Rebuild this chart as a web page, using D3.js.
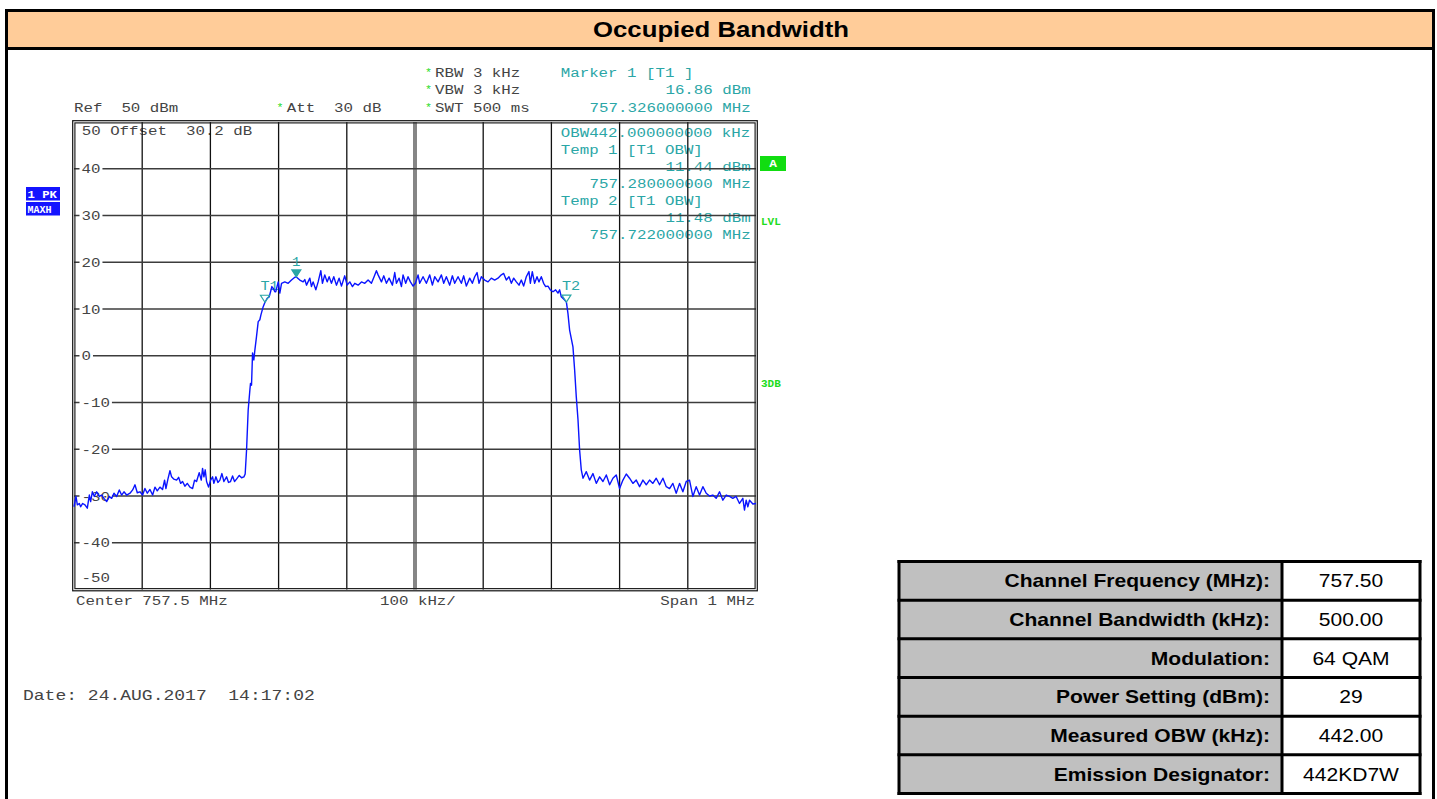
<!DOCTYPE html>
<html>
<head>
<meta charset="utf-8">
<script src="https://cdn.jsdelivr.net/npm/d3@7"></script>
<style>
  html, body { margin: 0; padding: 0; background: #fff; }
  svg { display: block; }
  svg text { white-space: pre; }
</style>
</head>
<body>
<svg id="chart" width="1437" height="799"></svg>
<script>
// ---------------- DATA ----------------
const titleText = "Occupied Bandwidth";
const centerMHz = 757.5;
const spanMHz = 1.0;
const startMHz = 757.0;

// trace: frequency offset from 757.0 MHz (kHz) and level (dBm)
const traceOffsetKHz = [
  0,2.9,4.9,7.8,9.8,12.7,16.1,19.5,22.5,24.4,
  26.9,29.8,33.2,37.1,40.5,44.0,47.9,51.8,55.2,58.6,
  62.5,66.4,69.8,73.3,77.2,82.1,86.0,89.4,92.8,96.7,
  100.6,104.0,107.5,111.4,115.3,118.7,122.1,126.0,129.9,132.8,
  134.8,137.7,140.7,143.1,146.5,150.4,153.4,156.3,159.2,162.6,
  166.1,170.0,173.9,176.8,179.7,183.6,186.6,188.5,190.5,192.4,
  194.4,197.3,200.3,203.2,205.1,208.1,211.0,213.9,216.9,219.8,
  223.7,226.6,229.5,232.5,235.4,238.3,242.3,245.7,249.1,251.0,
  253.0,255.4,257.9,258.8,260.3,261.8,263.7,265.2,267.6,270.1,
  272.5,274.0,277.4,280.0,283.3,286.2,288.2,290.1,292.1,294.5,
  295.9,299.4,301.8,304.3,309.1,314.0,318.9,323.8,326.0,331.1,
  336.0,338.4,340.9,345.8,348.2,350.6,354.6,358.0,361.9,364.3,
  367.7,371.2,374.1,377.5,380.9,384.8,388.7,392.2,397.0,400.5,
  404.4,408.3,411.7,416.6,421.5,426.4,431.2,436.1,440.0,443.4,
  445.9,450.8,454.2,458.1,462.0,466.9,470.3,472.8,476.7,480.1,
  482.5,486.4,489.8,493.3,497.2,500.6,504.5,506.9,511.8,516.7,
  521.6,525.5,528.9,533.8,538.7,542.1,546.0,550.9,554.8,558.2,
  563.1,568.0,571.4,575.3,580.2,584.1,587.5,591.0,593.9,597.3,
  602.2,607.1,611.9,616.8,621.7,626.6,630.0,633.9,637.8,641.3,
  644.7,648.6,652.5,655.9,659.3,663.2,667.1,669.1,672.0,675.4,
  678.9,681.8,685.2,688.6,691.6,695.0,698.4,702.3,706.2,709.6,
  712.1,714.5,719.4,
  722.0,724.3,726.7,731.6,734.1,736.5,739.0,741.4,743.8,746.3,
  751.2,756.0,760.9,765.8,770.7,775.6,780.5,785.4,790.2,795.1,
  800.0,804.9,809.8,814.6,819.5,824.4,829.3,834.2,839.1,843.9,
  848.8,853.7,858.6,863.5,868.4,873.3,878.1,883.0,887.9,892.8,
  897.7,902.5,907.4,912.3,917.2,922.1,927.0,931.9,936.7,941.6,
  946.5,951.4,956.3,961.2,966.0,970.9,975.8,980.7,983.1,985.6,
  988.0,990.5,995.4,1000
];
const traceDBm = [
  -32.3,-30.1,-31.9,-31.6,-32.3,-31.6,-31.9,-32.6,-29.8,-31.2,
  -29.1,-30.1,-29.1,-30.1,-29.8,-30.5,-31.2,-30.1,-30.5,-29.4,
  -30.1,-28.7,-29.8,-29.1,-29.8,-29.4,-28.7,-27.6,-29.3,-29.1,
  -29.8,-28.4,-29.4,-28.6,-29.8,-28.1,-28.9,-28.1,-28.6,-26.6,
  -28.4,-26.4,-24.6,-25.9,-26.4,-26.6,-26.0,-27.3,-26.9,-27.9,
  -27.3,-28.1,-28.4,-26.6,-26.9,-25.0,-26.6,-24.1,-25.9,-24.4,
  -26.9,-28.1,-26.6,-25.9,-27.3,-25.9,-27.1,-26.6,-25.2,-26.9,
  -25.9,-27.1,-26.9,-25.7,-26.9,-26.4,-25.6,-26.1,-25.9,-25.3,
  -20.2,-11.6,-7.3,-5.9,-6.3,0.6,-0.9,1.2,4.1,7.3,
  7.7,8.7,10.5,11.44,12.3,12.6,13.7,14.8,14.4,13.7,
  13.7,15.8,13.4,15.5,15.8,15.5,16.2,16.8,16.86,16.2,
  15.8,16.3,15.1,16.6,14.8,15.8,14.1,15.8,18.2,15.5,
  17.3,15.8,16.9,15.5,16.9,15.1,16.6,14.9,17.1,15.1,
  15.8,14.8,15.5,15.1,15.8,15.5,16.2,15.5,16.9,18.2,
  17.3,15.8,17.1,15.5,16.6,15.1,17.8,15.5,16.6,14.8,
  17.3,15.5,16.9,15.8,14.9,15.5,17.3,15.5,16.9,15.5,
  17.3,15.1,16.9,15.8,17.3,15.5,16.9,15.1,17.1,15.5,
  16.9,15.5,17.1,14.9,16.6,15.5,16.9,17.8,15.5,16.9,
  16.2,15.8,16.6,16.2,16.6,17.3,17.6,16.2,16.9,15.5,
  16.6,15.8,15.1,16.2,14.9,16.9,18.0,15.5,18.0,15.5,
  16.9,15.8,16.9,15.5,14.8,14.9,14.1,13.7,14.1,13.4,
  14.1,12.6,11.9,
  11.48,9.0,5.5,1.9,-3.1,-8.8,-13.7,-20.2,-24.4,-26.2,
  -24.8,-26.6,-25.2,-27.3,-25.9,-26.9,-25.5,-27.6,-26.2,-25.5,
  -28.4,-26.6,-25.3,-26.2,-27.3,-26.6,-28.0,-26.6,-27.6,-26.6,
  -27.3,-26.2,-27.6,-26.2,-28.0,-28.4,-27.3,-29.4,-27.3,-29.1,
  -26.9,-26.6,-30.1,-28.0,-29.8,-28.0,-29.4,-30.0,-29.8,-30.5,
  -29.1,-30.9,-29.8,-30.1,-30.5,-30.1,-31.6,-30.5,-33.0,-30.9,
  -32.3,-30.9,-31.7,-31.6
];

const yTickLevels = [40, 30, 20, 10, 0, -10, -20, -30, -40];
const xGridMHz = [757.1, 757.2, 757.3, 757.4, 757.5, 757.6, 757.7, 757.8, 757.9];
const refLevel = 50, bottomLevel = -50;

const markerNames = ["1", "T1", "T2"];
const markerMHz = [757.326, 757.280, 757.722];
const markerDBm = [16.86, 11.44, 11.48];
const markerFilled = [true, false, false];

const headerLeft = ["Ref  50 dBm", "Att  30 dB"];
const settingsLines = ["RBW 3 kHz", "VBW 3 kHz", "SWT 500 ms"];
const markerInfoLeft = ["Marker 1 [T1 ]"];
const markerInfoRight = ["16.86 dBm", "757.326000000 MHz"];
const obwLines = [
  {t: "OBW442.000000000 kHz", a: "start"},
  {t: "Temp 1 [T1 OBW]", a: "start"},
  {t: "11.44 dBm", a: "end"},
  {t: "757.280000000 MHz", a: "end"},
  {t: "Temp 2 [T1 OBW]", a: "start"},
  {t: "11.48 dBm", a: "end"},
  {t: "757.722000000 MHz", a: "end"}
];
const offsetText = "50 Offset  30.2 dB";
const bottomLabels = ["Center 757.5 MHz", "100 kHz/", "Span 1 MHz"];
const dateText = "Date: 24.AUG.2017  14:17:02";

const tableLabels = ["Channel Frequency (MHz):", "Channel Bandwidth (kHz):", "Modulation:",
                     "Power Setting (dBm):", "Measured OBW (kHz):", "Emission Designator:"];
const tableValues = ["757.50", "500.00", "64 QAM", "29", "442.00", "442KD7W"];

// ---------------- DRAWING ----------------
const SX = 1.17;
const MONO = "'Liberation Mono', 'DejaVu Sans Mono', monospace";
const SANS = "'Liberation Sans', Arial, Helvetica, sans-serif";
const TEAL = "#2aa6a6";
const GREEN = "#1edc1e";
const TXT = "#444";

const svg = d3.select("#chart");

function T(parent, x, y, str, o = {}) {
  return parent.append("text")
    .attr("xml:space", "preserve")
    .attr("transform", `translate(${x},${y}) scale(${o.sx || SX},1)`)
    .attr("text-anchor", o.anchor || "start")
    .attr("font-family", o.family || MONO)
    .attr("font-size", o.size || 13.5)
    .attr("font-weight", o.weight || "normal")
    .attr("fill", o.fill || TXT)
    .text(str);
}

// page frame & title
svg.append("rect").attr("x", 8).attr("y", 12).attr("width", 1424).attr("height", 36).attr("fill", "#FFCC99");
svg.append("line").attr("x1", 5).attr("x2", 1435).attr("y1", 10.5).attr("y2", 10.5).attr("stroke", "#000").attr("stroke-width", 3);
svg.append("line").attr("x1", 5).attr("x2", 1435).attr("y1", 48.5).attr("y2", 48.5).attr("stroke", "#000").attr("stroke-width", 3);
svg.append("line").attr("x1", 6.5).attr("x2", 6.5).attr("y1", 9).attr("y2", 799).attr("stroke", "#000").attr("stroke-width", 3);
svg.append("line").attr("x1", 1433.5).attr("x2", 1433.5).attr("y1", 9).attr("y2", 799).attr("stroke", "#000").attr("stroke-width", 3);
T(svg, 721, 37, titleText, {anchor: "middle", family: SANS, size: 22, weight: "bold", fill: "#000"});

// scales
const x0 = 74, x1 = 756, y0 = 122, y1 = 589.5;
const x = d3.scaleLinear().domain([startMHz, startMHz + spanMHz]).range([x0, x1]);
const y = d3.scaleLinear().domain([bottomLevel, refLevel]).range([y1, y0]);

const plot = svg.append("g");

// header texts
T(svg, 74, 112, headerLeft[0]);
T(svg, 276.5, 111, "*", {fill: GREEN, size: 10});
T(svg, 286.7, 112, headerLeft[1]);
settingsLines.forEach((s, i) => {
  const by = 77 + i * 17.3;
  T(svg, 425, by - 1, "*", {fill: GREEN, size: 10});
  T(svg, 435, by, s);
});
T(svg, 560.7, 77, markerInfoLeft[0], {fill: TEAL});
markerInfoRight.forEach((s, i) => T(svg, 750.7, 94.3 + i * 17.3, s, {fill: TEAL, anchor: "end"}));

// text inside the plot (drawn before grid)
obwLines.forEach((l, i) => {
  const by = 136.7 + i * 17.1;
  T(plot, l.a === "start" ? 560.7 : 750.7, by, l.t, {fill: TEAL, anchor: l.a});
});
T(plot, 81.7, 135, offsetText);

// grid: verticals
xGridMHz.forEach(f => {
  if (Math.abs(f - centerMHz) < 1e-9) {
    [-1, 1].forEach(d => plot.append("line")
      .attr("x1", x(f) + d).attr("x2", x(f) + d).attr("y1", y0).attr("y2", y1)
      .attr("stroke", "#222").attr("stroke-width", 1.1));
  } else {
    plot.append("line").attr("x1", x(f)).attr("x2", x(f)).attr("y1", y0).attr("y2", y1)
      .attr("stroke", "#111").attr("stroke-width", 1.3);
  }
});
// grid: horizontals with tick labels
yTickLevels.forEach(v => {
  const yy = y(v);
  plot.append("line").attr("x1", x0).attr("x2", x1).attr("y1", yy).attr("y2", yy)
    .attr("stroke", "#3c3c3c").attr("stroke-width", 1.6);
  const lab = (v < 0 ? "-" : "") + Math.abs(v);
  const w = lab.length * 8.1 * SX;
  plot.append("rect").attr("x", 79.5).attr("y", yy - 6).attr("width", w + 4).attr("height", 12).attr("fill", "#fff");
  T(plot, 81.5, yy + 4.5, lab, {fill: "#444"});
});
T(plot, 81.5, 582, "-50", {fill: "#444"});

// frame (double lines)
[[-1.3, "#111"], [0.9, "#222"]].forEach(([d, c]) => {
  plot.append("rect").attr("x", x0 + d).attr("y", y0 + d)
    .attr("width", (x1 - x0) - 2 * d).attr("height", (y1 - y0) - 2 * d)
    .attr("fill", "none").attr("stroke", c).attr("stroke-width", 1.2);
});

// bottom labels
T(svg, 76, 605, bottomLabels[0]);
T(svg, 380, 605, bottomLabels[1]);
T(svg, 755, 605, bottomLabels[2], {anchor: "end"});
T(svg, 23, 700, dateText, {size: 15.4});

// marker labels (under trace)
markerNames.forEach((n, i) => {
  const mx = x(markerMHz[i]), my = y(markerDBm[i]);
  if (markerFilled[i]) {
    T(plot, mx, my - 11, n, {fill: TEAL, anchor: "middle", size: 12});
  } else {
    T(plot, mx - 4.5, my - 12, n, {fill: TEAL, size: 13});
  }
});

// trace
const pts = traceOffsetKHz.map((k, i) => [startMHz + k / 1000, traceDBm[i]]);
const line = d3.line().x(d => x(d[0])).y(d => y(d[1]));
plot.append("path").attr("d", line(pts)).attr("fill", "none")
  .attr("stroke", "#0a14ff").attr("stroke-width", 1.4).attr("stroke-linejoin", "round");

// marker triangles
markerNames.forEach((n, i) => {
  const mx = x(markerMHz[i]), my = y(markerDBm[i]);
  const p = `M${mx},${my} L${mx - 4.5},${my - 7} L${mx + 4.5},${my - 7} Z`;
  plot.append("path").attr("d", p)
    .attr("fill", markerFilled[i] ? TEAL : "none")
    .attr("stroke", TEAL).attr("stroke-width", 1.2);
});

// side annotations
svg.append("rect").attr("x", 26).attr("y", 187).attr("width", 34).attr("height", 13.5).attr("fill", "#1414ff");
T(svg, 27.5, 197.5, "1 PK", {fill: "#fff", size: 10.5, weight: "bold"});
svg.append("rect").attr("x", 26).attr("y", 202).attr("width", 34).attr("height", 13.5).attr("fill", "#1414ff");
T(svg, 27.5, 212.5, "MAXH", {fill: "#fff", size: 10, weight: "bold", sx: 1.0});
svg.append("rect").attr("x", 760).attr("y", 156).attr("width", 26).attr("height", 15).attr("fill", "#11dd11");
T(svg, 773, 167, "A", {fill: "#fff", size: 11, weight: "bold", anchor: "middle"});
T(svg, 761, 225, "LVL", {fill: GREEN, size: 11, weight: "bold", sx: 1.0});
T(svg, 761, 387, "3DB", {fill: GREEN, size: 11, weight: "bold", sx: 1.0});

// summary table
const tL = 899, tD = 1282, tR = 1420;
const rows = d3.scaleBand().domain(d3.range(tableLabels.length)).range([561.5, 793.5]);
const tbl = svg.append("g");
tableLabels.forEach((lab, i) => {
  const ry = rows(i), rh = rows.bandwidth();
  tbl.append("rect").attr("x", tL).attr("y", ry).attr("width", tD - tL).attr("height", rh).attr("fill", "#c0c0c0");
  tbl.append("rect").attr("x", tD).attr("y", ry).attr("width", tR - tD).attr("height", rh).attr("fill", "#fff");
  T(tbl, 1270, ry + rh / 2 + 6.5, lab, {family: SANS, size: 18, weight: "bold", fill: "#000", anchor: "end"});
  T(tbl, (tD + tR) / 2, ry + rh / 2 + 6.5, tableValues[i], {family: SANS, size: 18, fill: "#000", anchor: "middle"});
});
tableLabels.forEach((lab, i) => {
  tbl.append("line").attr("x1", tL - 1.5).attr("x2", tR + 1.5).attr("y1", rows(i)).attr("y2", rows(i))
    .attr("stroke", "#000").attr("stroke-width", 3);
});
tbl.append("line").attr("x1", tL - 1.5).attr("x2", tR + 1.5).attr("y1", 793.5).attr("y2", 793.5).attr("stroke", "#000").attr("stroke-width", 3);
[tL, tD, tR].forEach(xx => tbl.append("line").attr("x1", xx).attr("x2", xx).attr("y1", 560).attr("y2", 795)
  .attr("stroke", "#000").attr("stroke-width", 3));
</script>
</body>
</html>
